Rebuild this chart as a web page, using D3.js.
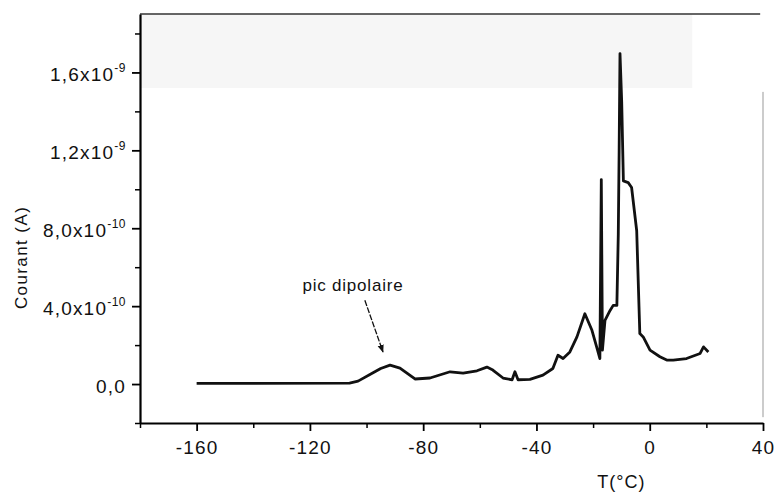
<!DOCTYPE html>
<html>
<head>
<meta charset="utf-8">
<script src="https://cdn.jsdelivr.net/npm/d3@7"></script>
<style>
  body { margin: 0; background: #fff; }
  svg { display: block; font-family: "Liberation Sans", Arial, sans-serif; }
</style>
</head>
<body>
<svg id="chart"></svg>
<script>
// T (°C) and courant (A)
const temperature = [-160, -106, -103, -97.7, -95, -91.7, -88.2, -82.9, -77.6, -70.5, -65.9, -61, -57.5, -55.4,
  -51.8, -48.6, -47.6, -46.5, -42.3, -37.7, -34.2, -32.4, -30.6, -28.2, -25.7, -22.9, -20.4, -18.6,
  -17.6, -17.1, -16.7, -15.8, -14.0, -12.9, -11.6, -11.1, -10.8, -10.5, -9.9, -9.3, -7.6, -6.4,
  -4.6, -3.5, -2.3, 0.1, 3.6, 6.0, 8.3, 13.0, 17.8, 19.0, 20.7];
const courant = [0.03e-10, 0.05e-10, 0.15e-10, 0.58e-10, 0.8e-10, 0.97e-10, 0.82e-10, 0.26e-10, 0.31e-10, 0.63e-10, 0.56e-10, 0.68e-10, 0.87e-10, 0.72e-10,
  0.31e-10, 0.22e-10, 0.63e-10, 0.22e-10, 0.24e-10, 0.46e-10, 0.8e-10, 1.48e-10, 1.31e-10, 1.65e-10, 2.42e-10, 3.61e-10, 2.76e-10, 1.83e-10,
  1.31e-10, 10.5e-10, 1.74e-10, 3.27e-10, 3.78e-10, 4.04e-10, 4.04e-10, 7.7e-10, 12.0e-10, 16.97e-10, 14.5e-10, 10.43e-10, 10.34e-10, 10.09e-10,
  7.87e-10, 2.59e-10, 2.42e-10, 1.74e-10, 1.40e-10, 1.23e-10, 1.23e-10, 1.31e-10, 1.57e-10, 1.91e-10, 1.65e-10];

const xTicks = [-160, -120, -80, -40, 0, 40];
const xMinor = [-180, -140, -100, -60, -20, 20];
const yTicks = [0, 4e-10, 8e-10, 1.2e-9, 1.6e-9];
const yMinor = [-2e-10, 2e-10, 6e-10, 1e-9, 1.4e-9, 1.8e-9];
const yMantissa = ["0,0", "4,0x10", "8,0x10", "1,2x10", "1,6x10"];
const yExponent = ["", "-10", "-10", "-9", "-9"];

// label position and arrow (tail -> head) in data units
const annotation = { text: "pic dipolaire", T: -104.8, I: 4.8e-10 };
const arrowFrom = [-100.6, 4.3e-10];
const arrowTo = [-94.2, 1.65e-10];

const width = 778, height = 496;
const svg = d3.select("#chart").attr("width", width).attr("height", height);

var x = d3.scaleLinear().domain([-180, 40]).range([140, 763]);
var y = d3.scaleLinear().domain([-2e-10, 1.9e-9]).range([423, 14]);

// faint grey band of the scan at the top of the frame
svg.append("rect")
  .attr("x", x(-180)).attr("y", y(1.9e-9))
  .attr("width", x(15) - x(-180)).attr("height", y(1.52e-9) - y(1.9e-9))
  .attr("fill", "#f6f6f6");

// frame: top and faint right edge
svg.append("line")
  .attr("x1", x(-180)).attr("x2", x(39)).attr("y1", y(1.9e-9)).attr("y2", y(1.9e-9))
  .attr("stroke", "#333").attr("stroke-width", 1.5);
svg.append("line")
  .attr("x1", x(40)).attr("x2", x(40)).attr("y1", y(1.5e-9)).attr("y2", y(-1.7e-10))
  .attr("stroke", "#999").attr("stroke-width", 1);

// minor ticks
svg.append("g").attr("transform", `translate(0,${y(-2e-10)})`)
  .call(d3.axisBottom(x).tickValues(xMinor).tickSize(5).tickFormat(""))
  .call(g => g.select(".domain").remove())
  .selectAll("line").attr("stroke-width", 1.5);
svg.append("g").attr("transform", `translate(${x(-180)},0)`)
  .call(d3.axisLeft(y).tickValues(yMinor).tickSize(5).tickFormat(""))
  .call(g => g.select(".domain").remove())
  .selectAll("line").attr("stroke-width", 1.5);

// x axis
const gx = svg.append("g").attr("transform", `translate(0,${y(-2e-10)})`)
  .call(d3.axisBottom(x).tickValues(xTicks).tickSize(8).tickSizeOuter(0).tickPadding(10)
    .tickFormat(d => String(d)));
gx.select(".domain").attr("stroke-width", 2.2);
gx.selectAll(".tick line").attr("stroke-width", 1.8);
gx.selectAll(".tick text").attr("font-size", 19).attr("letter-spacing", 1.2).attr("fill", "#111")
  .attr("font-family", "Liberation Sans, Arial, sans-serif");

// y axis
const gy = svg.append("g").attr("transform", `translate(${x(-180)},0)`)
  .call(d3.axisLeft(y).tickValues(yTicks).tickSize(8).tickSizeOuter(0).tickPadding(6));
gy.select(".domain").attr("stroke-width", 2.2);
gy.selectAll(".tick line").attr("stroke-width", 1.8);
gy.selectAll(".tick text")
  .attr("font-size", 19).attr("letter-spacing", 1.2).attr("fill", "#111")
  .attr("font-family", "Liberation Sans, Arial, sans-serif")
  .attr("dy", "0.45em")
  .each(function (d, i) {
    const t = d3.select(this).text(null);
    t.append("tspan").text(yMantissa[i]);
    if (yExponent[i]) {
      t.append("tspan").attr("font-size", 12).attr("letter-spacing", 0.5)
        .attr("dy", "-0.75em").text(yExponent[i]);
    }
  });

// axis titles
svg.append("text")
  .attr("x", x(-10)).attr("y", 488)
  .attr("text-anchor", "middle").attr("font-size", 18).attr("letter-spacing", 1)
  .attr("fill", "#111").text("T(°C)");
svg.append("text")
  .attr("transform", `translate(27,${y(6.5e-10)}) rotate(-90)`)
  .attr("text-anchor", "middle").attr("font-size", 17).attr("letter-spacing", 1.4)
  .attr("fill", "#111").text("Courant (A)");

// the curve
var line = d3.line()
  .x(function (d) { return x(d[0]); })
  .y(function (d) { return y(d[1]); });

svg.append("path")
  .datum(d3.zip(temperature, courant))
  .attr("fill", "none")
  .attr("stroke", "#111")
  .attr("stroke-width", 2.8)
  .attr("stroke-linejoin", "round")
  .attr("d", line);

// annotation with arrow
svg.append("defs").append("marker")
  .attr("id", "arrow").attr("viewBox", "0 0 10 10")
  .attr("refX", 9).attr("refY", 5)
  .attr("markerWidth", 6).attr("markerHeight", 6)
  .attr("orient", "auto")
  .append("path").attr("d", "M0,1 L10,5 L0,9 Z").attr("fill", "#111");

svg.append("text")
  .attr("x", x(annotation.T)).attr("y", y(annotation.I))
  .attr("text-anchor", "middle").attr("font-size", 17).attr("letter-spacing", 0.8)
  .attr("fill", "#111").text(annotation.text);

svg.append("line")
  .attr("x1", x(arrowFrom[0])).attr("y1", y(arrowFrom[1]))
  .attr("x2", x(arrowTo[0])).attr("y2", y(arrowTo[1]))
  .attr("stroke", "#111").attr("stroke-width", 1.3)
  .attr("stroke-dasharray", "6,1.5")
  .attr("marker-end", "url(#arrow)");
</script>
</body>
</html>
